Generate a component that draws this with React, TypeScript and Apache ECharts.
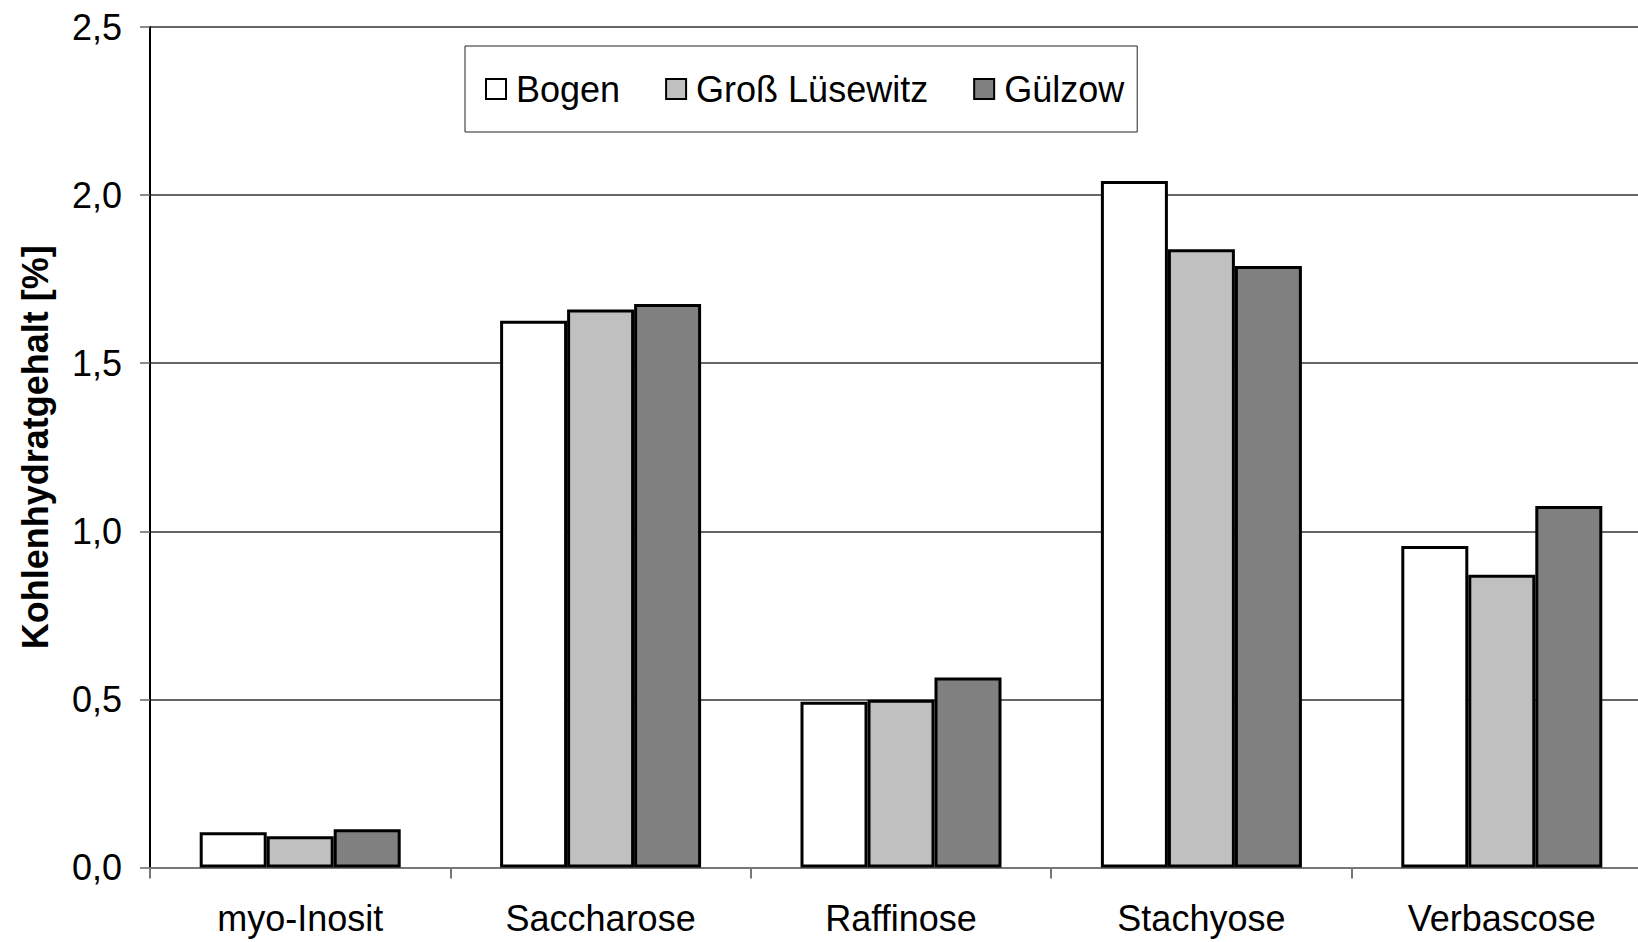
import React, { useEffect, useRef } from "react";
import * as echarts from "echarts";

const categories = ["myo-Inosit", "Saccharose", "Raffinose", "Stachyose", "Verbascose"];
const seriesNames = ["Bogen", "Groß Lüsewitz", "Gülzow"];
const bogen = [0.105, 1.626, 0.493, 2.042, 0.956];
const grossLuesewitz = [0.093, 1.66, 0.499, 1.839, 0.871];
const guelzow = [0.114, 1.676, 0.565, 1.789, 1.075];
const seriesColors = ["#ffffff", "#c0c0c0", "#808080"];
const yTicks = { min: 0, max: 2.5, interval: 0.5 };
const yAxisTitle = "Kohlenhydratgehalt [%]";

const FONT = "'Liberation Sans', Arial, sans-serif";

export default function App() {
  const ref = useRef<HTMLDivElement>(null);
  useEffect(() => {
    if (!ref.current) return;
    const chart = echarts.init(ref.current, undefined, { renderer: "svg" });
    const values = [bogen, grossLuesewitz, guelzow];
    chart.setOption({
      animation: false,
      backgroundColor: "#ffffff",
      textStyle: { fontFamily: FONT },
      legend: {
        left: 465,
        top: 46,
        orient: "horizontal",
        itemWidth: 20,
        itemHeight: 20,
        itemGap: 45,
        padding: [25, 13, 25, 20],
        borderColor: "#222",
        borderWidth: 1,
        backgroundColor: "#fff",
        icon: "rect",
        textStyle: { fontSize: 36, color: "#000", fontFamily: FONT, padding: [0, 0, 0, 5] },
        data: seriesNames.map((n) => ({ name: n, itemStyle: { borderColor: "#000", borderWidth: 2 } })),
      },
      grid: {
        left: 150,
        top: 27,
        width: 1502,
        height: 840.5,
        containLabel: false,
        outerBoundsMode: "none",
      },
      xAxis: {
        type: "category",
        data: categories,
        axisLine: { show: true, lineStyle: { color: "#777", width: 2 } },
        axisTick: { show: true, length: 11, lineStyle: { color: "#777", width: 2 } },
        axisLabel: { fontSize: 36, color: "#000", margin: 33, fontFamily: FONT },
        splitLine: { show: false },
      },
      yAxis: {
        type: "value",
        min: yTicks.min,
        max: yTicks.max,
        interval: yTicks.interval,
        name: yAxisTitle,
        nameLocation: "middle",
        nameGap: 97,
        nameRotate: 90,
        nameTextStyle: { fontSize: 36, fontWeight: "bold", color: "#000", fontFamily: FONT },
        axisLine: { show: true, lineStyle: { color: "#000", width: 2 } },
        axisTick: { show: true, length: 10, lineStyle: { color: "#666", width: 1.5 } },
        axisLabel: {
          fontSize: 36,
          color: "#000",
          margin: 28,
          fontFamily: FONT,
          formatter: (v: number) => v.toFixed(1).replace(".", ","),
        },
        splitLine: { show: true, lineStyle: { color: "#333", width: 1.5 } },
      },
      series: seriesNames.map((name, i) => ({
        name,
        type: "bar",
        data: values[i],
        barWidth: 67,
        barGap: "0%",
        itemStyle: { color: seriesColors[i], borderColor: "#000", borderWidth: 3 },
      })),
    });
    return () => chart.dispose();
  }, []);
  return (
    <div
      ref={ref}
      style={{ position: "absolute", left: 0, top: 0, width: 1638, height: 942 }}
    />
  );
}
